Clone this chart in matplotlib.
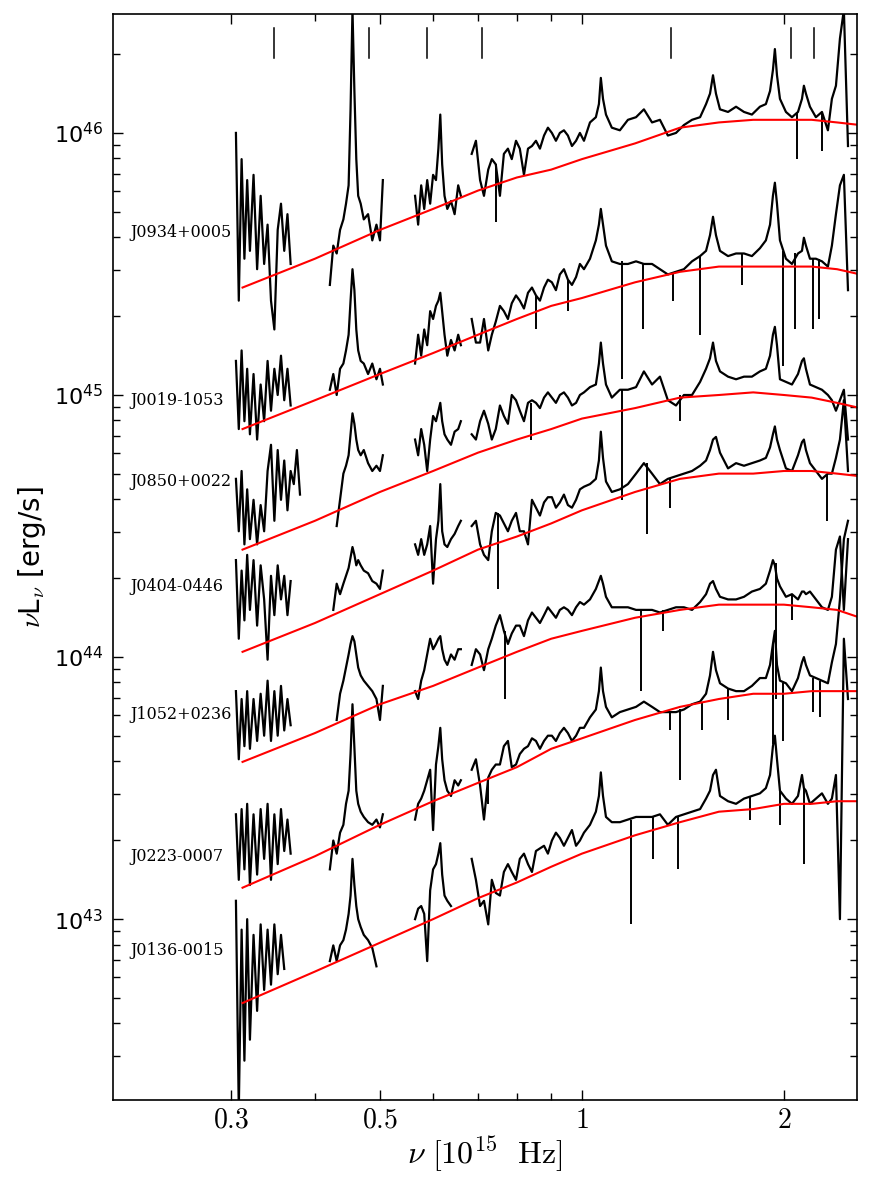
import numpy as np
import matplotlib
matplotlib.use("Agg")
import matplotlib.pyplot as plt
from matplotlib.ticker import FixedLocator, NullFormatter

nan = np.nan

# rest-frame frequency grids [1e15 Hz] for the spectral pieces
nu_A = [0.305, 0.308, 0.311, 0.314, 0.317, 0.320, 0.324, 0.328, 0.332, 0.336, 0.340,
        0.344, 0.348, 0.352, 0.356, 0.360, 0.364, 0.368, 0.372, 0.376, 0.380]
nu_B = [0.421, 0.426, 0.431, 0.436, 0.441, 0.445, 0.449, 0.452, 0.455, 0.458, 0.461,
        0.464, 0.468, 0.473, 0.480, 0.487, 0.494, 0.500, 0.505]
nu_C = [0.564, 0.570, 0.576, 0.582, 0.588, 0.594, 0.600, 0.606, 0.611, 0.615, 0.619,
        0.624, 0.630, 0.638, 0.646, 0.654, 0.660]
nu_D = [0.685, 0.705, 0.725, 0.744, 0.765, 0.786, 0.808, 0.831, 0.854, 0.878, 0.902,
        0.927, 0.953, 0.980, 1.007, 1.028, 1.049, 1.060, 1.067, 1.075, 1.086, 1.108,
        1.139, 1.171, 1.204, 1.237, 1.272, 1.307, 1.343, 1.381, 1.419, 1.459, 1.500,
        1.531, 1.552, 1.568, 1.584, 1.606, 1.651, 1.697, 1.744, 1.792, 1.842, 1.880,
        1.907, 1.926, 1.939, 1.953, 1.973, 2.014, 2.056, 2.099, 2.128, 2.142, 2.157,
        2.187, 2.232, 2.279, 2.326, 2.358, 2.391, 2.424, 2.457, 2.492]
# extra samples in the noisy blue end of the optical piece
nu_Dn = [0.695, 0.7145, 0.734, 0.7547, 0.7757, 0.7975, 0.8196, 0.8424, 0.8658, 0.8898,
         0.9146, 0.9401, 0.9663, 0.9931]

# log10(nu L_nu) of each object, one list per piece (A, B, C, D, Dn)
J0934 = ([46.00, 45.36, 45.90, 45.52, 45.82, 45.55, 45.84, 45.48, 45.76, 45.50, 45.65,
          45.36, 45.25, 45.63, 45.73, 45.55, 45.69, 45.50, nan, nan, nan],
         [45.42, 45.57, 45.54, 45.63, 45.67, 45.73, 45.80, 46.09, 46.47, 46.16, 45.90,
          45.76, 45.73, 45.67, 45.69, 45.59, 45.65, 45.59, 45.82],
         [45.76, 45.65, 45.80, 45.71, 45.82, 45.73, 45.84, 45.82, 45.94, 46.07, 45.88,
          45.76, 45.71, 45.74, 45.69, 45.80, 45.76],
         [45.92, 45.82, 45.86, 45.88, 45.92, 45.90, 45.94, 45.94, 45.97, 45.99, 46.00,
          46.00, 45.99, 45.97, 45.97, 46.04, 46.06, 46.11, 46.21, 46.13, 46.07, 46.02,
          46.01, 46.05, 46.06, 46.09, 46.04, 46.05, 45.99, 46.00, 46.03, 46.05, 46.06,
          46.11, 46.15, 46.22, 46.15, 46.09, 46.08, 46.10, 46.08, 46.07, 46.10, 46.11,
          46.16, 46.24, 46.32, 46.22, 46.13, 46.08, 46.06, 46.08, 46.13, 46.18, 46.15,
          46.10, 46.06, 46.08, 46.01, 46.13, 46.18, 46.36, 46.47, 45.95],
         [45.97, 45.76, 45.90, 45.76, 45.94, 45.97, 45.84, 45.95, 45.94, 46.02, 45.97,
          46.01, 45.95, 46.00])

J0019 = ([45.13, 44.87, 45.17, 44.90, 45.10, 44.85, 45.08, 44.83, 45.04, 44.90, 45.13,
          44.94, 45.10, 45.00, 45.15, 44.98, 45.10, 44.96, nan, nan, nan],
         [45.02, 45.08, 45.00, 45.10, 45.12, 45.17, 45.23, 45.36, 45.48, 45.40, 45.25,
          45.17, 45.13, 45.12, 45.08, 45.12, 45.06, 45.10, 45.04],
         [45.12, 45.23, 45.15, 45.25, 45.19, 45.32, 45.29, 45.34, 45.36, 45.39, 45.32,
          45.23, 45.15, 45.21, 45.17, 45.23, 45.19],
         [45.29, 45.20, 45.17, 45.28, 45.32, 45.35, 45.36, 45.39, 45.38, 45.41, 45.43,
          45.46, 45.44, 45.45, 45.48, 45.52, 45.59, 45.65, 45.71, 45.65, 45.57, 45.51,
          45.50, 45.50, 45.51, 45.50, 45.50, 45.48, 45.46, 45.47, 45.48, 45.51, 45.53,
          45.55, 45.61, 45.68, 45.61, 45.55, 45.53, 45.54, 45.54, 45.53, 45.56, 45.59,
          45.65, 45.76, 45.81, 45.73, 45.59, 45.52, 45.50, 45.54, 45.55, 45.60, 45.57,
          45.52, 45.52, 45.51, 45.49, 45.57, 45.69, 45.80, 45.84, 45.40],
         [45.20, 45.29, 45.23, 45.34, 45.29, 45.38, 45.33, 45.41, 45.36, 45.44, 45.40,
          45.48, 45.42, 45.50])

J0850 = ([44.68, 44.48, 44.71, 44.43, 44.64, 44.45, 44.60, 44.43, 44.58, 44.48, 44.71,
          44.81, 44.52, 44.79, 44.60, 44.75, 44.56, 44.71, 44.66, 44.79, 44.62],
         [nan, nan, 44.50, 44.60, 44.70, 44.73, 44.77, 44.85, 44.93, 44.89, 44.83,
          44.79, 44.77, 44.79, 44.74, 44.71, 44.73, 44.71, 44.77],
         [44.83, 44.77, 44.87, 44.81, 44.71, 44.83, 44.92, 44.90, 44.94, 44.97, 44.90,
          44.85, 44.83, 44.81, 44.86, 44.87, 44.90],
         [44.85, 44.90, 44.89, 44.87, 44.92, 45.00, 44.94, 44.97, 44.97, 44.99, 44.99,
          45.00, 44.99, 44.97, 45.01, 45.03, 45.04, 45.12, 45.20, 45.12, 45.04, 44.99,
          45.02, 45.02, 45.03, 45.09, 45.04, 45.07, 44.98, 44.96, 45.00, 45.00, 45.05,
          45.10, 45.14, 45.20, 45.13, 45.09, 45.07, 45.06, 45.07, 45.07, 45.09, 45.10,
          45.15, 45.23, 45.26, 45.19, 45.06, 45.05, 45.04, 45.08, 45.13, 45.14, 45.10,
          45.04, 45.03, 45.02, 45.00, 44.98, 44.94, 44.98, 45.02, 44.83],
         [44.83, 44.94, 44.83, 44.96, 44.89, 44.98, 44.90, 44.98, 44.95, 45.01, 44.97,
          45.01, 44.96, 45.00])

J0404 = ([44.37, 44.07, 44.33, 44.14, 44.39, 44.18, 44.37, 44.12, 44.35, 44.22, 43.99,
          44.31, 44.16, 44.35, 44.22, 44.31, 44.16, 44.29, nan, nan, nan],
         [nan, 44.18, 44.28, 44.24, 44.28, 44.31, 44.34, 44.38, 44.42, 44.39, 44.35,
          44.37, 44.35, 44.33, 44.32, 44.29, 44.28, 44.26, 44.33],
         [44.43, 44.39, 44.45, 44.39, 44.43, 44.50, 44.28, 44.45, 44.52, 44.66, 44.48,
          44.43, 44.42, 44.45, 44.47, 44.50, 44.52],
         [44.50, 44.43, 44.37, 44.55, 44.51, 44.52, 44.48, 44.43, 44.57, 44.59, 44.61,
          44.59, 44.58, 44.60, 44.65, 44.66, 44.68, 44.75, 44.86, 44.76, 44.67, 44.63,
          44.64, 44.66, 44.70, 44.74, 44.70, 44.66, 44.68, 44.69, 44.70, 44.71, 44.73,
          44.75, 44.79, 44.83, 44.84, 44.78, 44.72, 44.74, 44.73, 44.74, 44.75, 44.76,
          44.80, 44.85, 44.88, 44.83, 44.79, 44.72, 44.71, 44.77, 44.82, 44.83, 44.79,
          44.74, 44.71, 44.68, 44.70, 44.70, 44.76, 44.83, 44.98, 44.71],
         [44.52, 44.39, 44.48, 44.54, 44.48, 44.55, 44.48, 44.60, 44.54, 44.61, 44.57,
          44.62, 44.57, 44.64])

J1052 = ([43.87, 43.61, 43.84, 43.66, 43.87, 43.65, 43.84, 43.68, 43.86, 43.70, 43.91,
          43.68, 43.87, 43.70, 43.89, 43.72, 43.84, 43.74, nan, nan, nan],
         [nan, nan, 43.76, 43.86, 43.91, 43.96, 44.01, 44.05, 44.08, 44.06, 44.01,
          43.96, 43.93, 43.91, 43.89, 43.87, 43.84, 43.76, 43.89],
         [43.87, 43.84, 43.91, 43.95, 44.01, 44.07, 44.03, 44.05, 44.07, 44.08, 44.03,
          43.99, 43.97, 44.01, 43.99, 44.03, 44.03],
         [43.97, 44.01, 44.03, 44.12, 44.10, 44.09, 44.12, 44.14, 44.15, 44.16, 44.17,
          44.18, 44.18, 44.19, 44.20, 44.22, 44.26, 44.29, 44.31, 44.28, 44.23, 44.19,
          44.19, 44.19, 44.18, 44.18, 44.18, 44.17, 44.18, 44.19, 44.19, 44.18, 44.21,
          44.24, 44.28, 44.29, 44.26, 44.23, 44.22, 44.22, 44.23, 44.25, 44.26, 44.28,
          44.33, 44.37, 44.35, 44.30, 44.27, 44.23, 44.24, 44.22, 44.25, 44.25, 44.24,
          44.25, 44.22, 44.19, 44.18, 44.23, 44.41, 44.46, 44.18, 44.45],
         [44.03, 43.95, 44.07, 44.16, 44.05, 44.12, 44.08, 44.17, 44.13, 44.19, 44.15,
          44.19, 44.16, 44.21])

J0223 = ([43.40, 43.15, 43.42, 43.19, 43.44, 43.13, 43.40, 43.17, 43.42, 43.23, 43.44,
          43.15, 43.40, 43.21, 43.42, 43.26, 43.38, 43.25, nan, nan, nan],
         [43.19, 43.30, 43.25, 43.33, 43.36, 43.44, 43.49, 43.63, 43.82, 43.65, 43.49,
          43.44, 43.41, 43.39, 43.37, 43.36, 43.38, 43.35, 43.40],
         [43.38, 43.44, 43.46, 43.49, 43.53, 43.57, 43.34, 43.59, 43.66, 43.73, 43.61,
          43.53, 43.49, 43.47, 43.53, 43.51, 43.53],
         [43.57, 43.51, 43.54, 43.59, 43.66, 43.58, 43.63, 43.66, 43.68, 43.68, 43.70,
          43.71, 43.71, 43.70, 43.73, 43.77, 43.80, 43.87, 43.96, 43.87, 43.81, 43.77,
          43.79, 43.80, 43.81, 43.83, 43.81, 43.79, 43.79, 43.79, 43.80, 43.82, 43.83,
          43.86, 43.93, 44.02, 43.95, 43.90, 43.88, 43.87, 43.87, 43.89, 43.92, 43.92,
          43.97, 44.05, 44.10, 43.97, 43.91, 43.90, 43.87, 43.92, 43.98, 44.00, 43.97,
          43.93, 43.92, 43.91, 43.90, 43.98, 44.05, 44.22, 44.45, 44.52],
         [43.61, 43.38, 43.57, 43.59, 43.68, 43.59, 43.65, 43.69, 43.65, 43.70, 43.68,
          43.73, 43.68, 43.73])

J0136 = ([43.07, 42.27, 42.96, 42.46, 43.00, 42.54, 42.94, 42.65, 42.98, 42.73, 42.96,
          42.75, 42.98, 42.79, 42.94, 42.81, nan, nan, nan, nan, nan],
         [42.84, 42.90, 42.84, 42.90, 42.92, 42.96, 43.02, 43.09, 43.23, 43.13, 43.05,
          43.00, 42.97, 42.94, 42.92, 42.89, 42.82, nan, nan],
         [43.00, 43.04, 43.05, 43.02, 42.84, 43.11, 43.19, 43.21, 43.25, 43.29, 43.17,
          43.09, 43.07, 43.05, nan, nan, nan],
         [43.23, 43.05, 42.98, 43.10, 43.18, 43.18, 43.23, 43.21, 43.26, 43.28, 43.30,
          43.31, 43.31, 43.28, 43.33, 43.36, 43.41, 43.47, 43.56, 43.47, 43.39, 43.37,
          43.37, 43.38, 43.39, 43.39, 43.39, 43.40, 43.36, 43.39, 43.40, 43.41, 43.42,
          43.46, 43.49, 43.55, 43.57, 43.47, 43.45, 43.44, 43.46, 43.47, 43.48, 43.50,
          43.55, 43.66, 43.70, 43.61, 43.49, 43.46, 43.44, 43.47, 43.55, 43.50, 43.49,
          43.44, 43.46, 43.48, 43.44, 43.46, 43.55, 43.00, 44.07, 43.84],
         [43.15, 43.07, 43.15, 43.09, 43.21, 43.15, 43.25, 43.18, 43.27, 43.25, 43.33,
          43.28, 43.34, 43.30])

# narrow absorption dips: (nu, log L at top, log L at bottom)
dips_J0934 = ([0.744, 2.090, 2.279], [45.88, 46.08, 46.08], [45.66, 45.90, 45.93])
dips_J0019 = ([0.854, 0.953, 1.147, 1.233, 1.366, 1.500, 1.731, 1.994, 2.076, 2.209, 2.255],
              [45.38, 45.44, 45.51, 45.50, 45.47, 45.53, 45.54, 45.55, 45.54, 45.52, 45.52],
              [45.25, 45.32, 45.06, 45.25, 45.36, 45.23, 45.42, 45.11, 45.25, 45.25, 45.29])
dips_J0850 = ([0.839, 1.147, 1.400], [44.97, 45.02, 45.00], [44.83, 44.60, 44.90])
dips_J0404 = ([0.750, 1.250, 1.352, 2.316], [44.55, 44.74, 44.68, 44.70],
              [44.26, 44.47, 44.57, 44.52])
dips_J1052 = ([0.768, 1.224, 1.320, 1.946, 2.056], [44.10, 44.18, 44.18, 44.36, 44.24],
              [43.84, 43.87, 44.10, 43.84, 44.14])
dips_J0223 = ([0.725, 1.352, 1.400, 1.510, 1.651, 1.926, 1.994, 2.209, 2.260],
              [43.54, 43.79, 43.80, 43.83, 43.88, 44.05, 43.90, 43.92, 43.91],
              [43.44, 43.72, 43.53, 43.72, 43.76, 43.67, 43.68, 43.79, 43.77])
dips_J0136 = ([1.183, 1.276, 1.390, 1.780, 1.973, 2.142], [43.38, 43.39, 43.39, 43.47, 43.49, 43.50],
              [42.98, 43.23, 43.19, 43.38, 43.36, 43.21])

# accretion disc model curves, log10(nu L_nu)
nu_model = [0.312, 0.40, 0.50, 0.60, 0.70, 0.80, 0.90, 1.0, 1.2, 1.4, 1.6, 1.8, 2.0,
            2.2, 2.4, 2.6]
mod_J0934 = [45.41, 45.52, 45.63, 45.71, 45.78, 45.83, 45.86, 45.90, 45.96, 46.02,
             46.04, 46.05, 46.05, 46.05, 46.04, 46.03]
mod_J0019 = [44.87, 44.98, 45.08, 45.16, 45.23, 45.29, 45.34, 45.37, 45.43, 45.47,
             45.49, 45.49, 45.49, 45.49, 45.48, 45.46]
mod_J0850 = [44.41, 44.52, 44.63, 44.71, 44.78, 44.83, 44.87, 44.91, 44.95, 44.99,
             45.00, 45.01, 45.00, 44.99, 44.97, 44.95]
mod_J0404 = [44.02, 44.13, 44.24, 44.33, 44.41, 44.46, 44.51, 44.56, 44.63, 44.68,
             44.70, 44.70, 44.71, 44.71, 44.70, 44.69]
mod_J1052 = [43.60, 43.71, 43.82, 43.89, 43.96, 44.02, 44.07, 44.10, 44.15, 44.18,
             44.20, 44.20, 44.20, 44.19, 44.18, 44.15]
mod_J0223 = [43.12, 43.24, 43.36, 43.45, 43.52, 43.58, 43.65, 43.69, 43.76, 43.81,
             43.84, 43.86, 43.86, 43.87, 43.87, 43.87]
mod_J0136 = [42.68, 42.80, 42.91, 43.00, 43.08, 43.14, 43.20, 43.25, 43.32, 43.37,
             43.41, 43.42, 43.44, 43.44, 43.45, 43.45]

names = ["J0934+0005", "J0019-1053", "J0850+0022", "J0404-0446",
         "J1052+0236", "J0223-0007", "J0136-0015"]
spectra = [J0934, J0019, J0850, J0404, J1052, J0223, J0136]
dips = [dips_J0934, dips_J0019, dips_J0850, dips_J0404, dips_J1052, dips_J0223, dips_J0136]
models = [mod_J0934, mod_J0019, mod_J0850, mod_J0404, mod_J1052, mod_J0223, mod_J0136]

# line markers along the top
marker_nu = [0.3475, 0.4815, 0.587, 0.710, 1.357, 2.049, 2.217]

# where the object names sit (log L)
label_y = [45.62, 44.98, 44.67, 44.27, 43.78, 43.24, 42.88]

plt.rcParams["mathtext.fontset"] = "cm"

fig = plt.figure(figsize=(8.71, 11.81), dpi=100)
ax = fig.add_axes([0.1297, 0.0686, 0.8542, 0.9196])
ax.set_xscale("log")
ax.set_yscale("log")

# optical piece: merge the two samplings in frequency order
order = np.argsort(nu_D + nu_Dn)
nu_opt = np.array(nu_D + nu_Dn)[order]
nu_all = np.concatenate([nu_A, [nan], nu_B, [nan], nu_C, [nan], nu_opt])

for spec, dd in zip(spectra, dips):
    a, b, c, d, dn = spec
    opt = np.array(d + dn)[order]
    logL = np.concatenate([a, [nan], b, [nan], c, [nan], opt])
    ax.plot(nu_all, 10 ** logL, color="k", lw=1.6)
    ax.vlines(dd[0], 10 ** np.array(dd[2]), 10 ** np.array(dd[1]), color="k", lw=1.4)

for m in models:
    ax.plot(nu_model, 10 ** np.array(m), color="red", lw=1.5)

for nu in marker_nu:
    ax.axvline(nu, ymin=0.9595, ymax=0.987, color="k", lw=1.1)

for name, y in zip(names, label_y):
    ax.text(0.212, 10 ** y, name, fontsize=11.5, family="DejaVu Serif",
            va="center", ha="left")

ax.set_xlim(0.2, 2.57)
ax.set_ylim(10 ** 42.31, 10 ** 46.454)

ax.xaxis.set_major_locator(FixedLocator([0.3, 0.5, 1, 2]))
ax.xaxis.set_minor_locator(FixedLocator([0.4, 0.6, 0.7, 0.8, 0.9]))
ax.set_xticklabels(["$0.3$", "$0.5$", "$1$", "$2$"], fontsize=20)
ax.xaxis.set_minor_formatter(NullFormatter())
ax.yaxis.set_minor_formatter(NullFormatter())
ax.tick_params(axis="y", labelsize=16)

ax.tick_params(which="both", direction="in", top=True, right=True, width=1)
ax.tick_params(which="major", length=7, pad=7)
ax.tick_params(axis="x", which="major", pad=4)
ax.tick_params(which="minor", length=5)
for s in ax.spines.values():
    s.set_linewidth(1.2)

ax.set_xlabel(r"$\nu\ [10^{15}\ \ \mathrm{Hz}]$", fontsize=23, labelpad=0)
ax.set_ylabel(r"$\nu$L$_\nu$ [erg/s]", fontsize=20, labelpad=4)

fig.savefig("out.png", dpi=100)
